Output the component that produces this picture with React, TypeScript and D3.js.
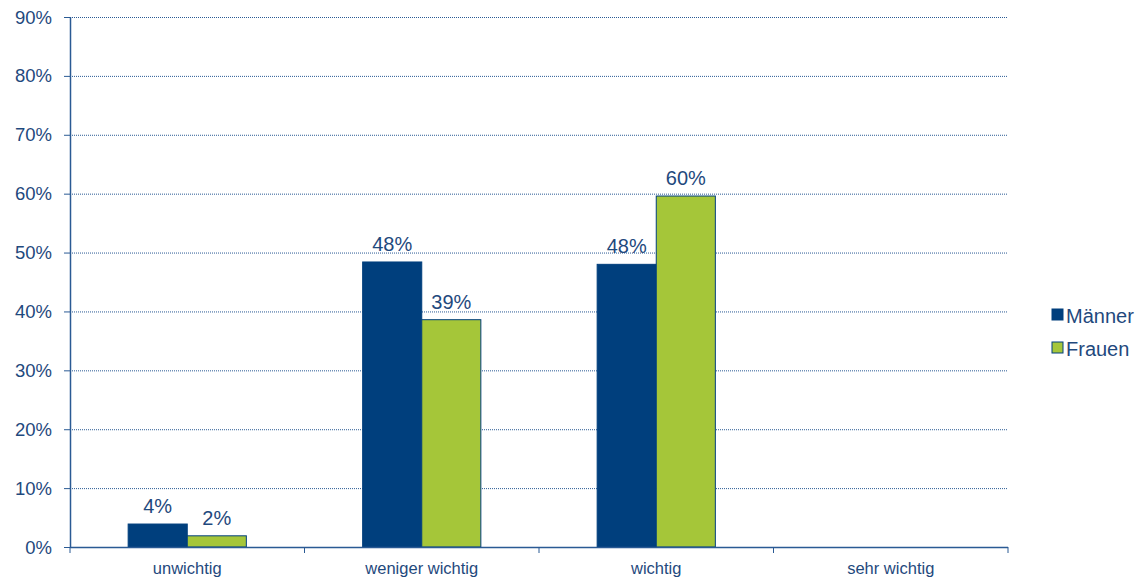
import React from "react";
import * as d3 from "d3";

const categories = ["unwichtig", "weniger wichtig", "wichtig", "sehr wichtig"];
const seriesNames = ["Männer", "Frauen"];
const maenner = [3.9, 48.4, 48.0, null];
const frauen = [1.9, 38.6, 59.6, null];
const labelsM = ["4%", "48%", "48%", null];
const labelsF = ["2%", "39%", "60%", null];
const yTicks = [0, 10, 20, 30, 40, 50, 60, 70, 80, 90];

const colors = ["#003f7d", "#a5c639"];
const textColor = "#1f497d";

export default function App() {
  const W = 1142, H = 578;
  const left = 70, right = 1008, top = 17, bottom = 547;
  const x = d3.scaleBand<string>().domain(categories).range([left, right]).paddingInner(0).paddingOuter(0);
  const y = d3.scaleLinear().domain([0, 90]).range([bottom, top]);
  const bw = x.bandwidth();
  const barW = bw * 0.252;
  const series = [maenner, frauen];
  const labels = [labelsM, labelsF];
  const font = "'Liberation Sans', Arial, sans-serif";

  return (
    <svg width={W} height={H} style={{ position: "absolute", left: 0, top: 0, fontFamily: font }}>
      {yTicks.map((t) => (
        <g key={t}>
          {t > 0 && (
            <line x1={left} x2={right} y1={y(t) + 0.5} y2={y(t) + 0.5} stroke="#2a5a94" strokeWidth={1} strokeDasharray="1 1" />
          )}
          <line x1={left - 6} x2={left} y1={y(t) + 0.5} y2={y(t) + 0.5} stroke="#2a5a94" strokeWidth={1} />
          <text x={52} y={y(t) + 6.5} textAnchor="end" fontSize={18.5} fill={textColor}>{t}%</text>
        </g>
      ))}
      {categories.map((c, i) => {
        const cx = (x(c) as number) + bw / 2;
        return (
          <g key={c}>
            {series.map((s, si) => {
              const v = s[i];
              if (v == null) return null;
              const bx = cx - barW + si * barW;
              return (
                <g key={si}>
                  <rect x={bx} y={y(v)} width={barW} height={bottom - y(v)} fill={colors[si]} stroke="#003f7d" strokeWidth={1} />
                  <text x={bx + barW / 2} y={y(v) - 11} textAnchor="middle" fontSize={20} fill={textColor}>{labels[si][i]}</text>
                </g>
              );
            })}
            <text x={cx} y={574} textAnchor="middle" fontSize={16.5} fill={textColor}>{c}</text>
          </g>
        );
      })}
      <line x1={left + 0.5} x2={left + 0.5} y1={top} y2={bottom} stroke="#2a5a94" strokeWidth={1.5} />
      <line x1={left} x2={right} y1={bottom + 0.5} y2={bottom + 0.5} stroke="#2a5a94" strokeWidth={1.5} />
      {d3.range(categories.length + 1).map((i) => {
        const tx = left + i * bw;
        return <line key={i} x1={tx} x2={tx} y1={bottom} y2={bottom + 6} stroke="#2a5a94" strokeWidth={1} />;
      })}
      {seriesNames.map((n, i) => (
        <g key={n}>
          <rect x={1052} y={309 + i * 33} width={11} height={11} fill={colors[i]} stroke="#003f7d" strokeWidth={1} />
          <text x={1066} y={322.5 + i * 33} fontSize={20} fill={textColor}>{n}</text>
        </g>
      ))}
    </svg>
  );
}
